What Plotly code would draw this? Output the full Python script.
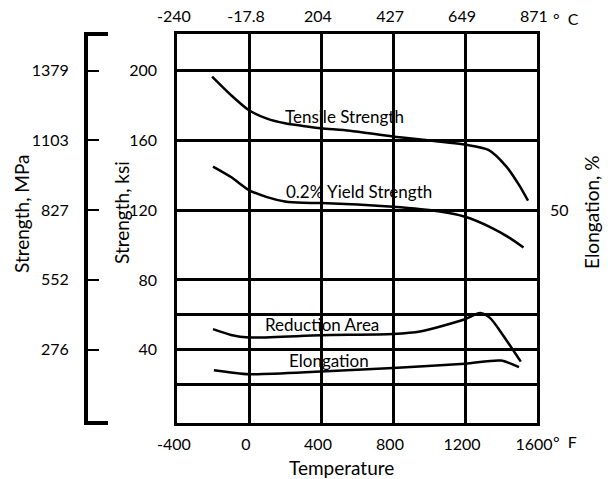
import plotly.graph_objects as go

# ---- data (temperature in deg F, values in chart units: ksi scale) ----
tensile_F = [-205, -100, 0, 100, 200, 300, 400, 560, 800, 1200, 1330, 1430, 1500, 1550]
tensile_ksi = [196.6, 186, 177.3, 172.5, 169.8, 168.3, 167, 165.6, 162.3, 157.6, 154.6, 145, 134.5, 125.5]

yield_F = [-200, -100, 0, 100, 200, 300, 400, 800, 1060, 1200, 1340, 1450, 1525]
yield_ksi = [145, 139, 131.5, 127.5, 125, 124.2, 124.1, 121.9, 119.2, 116.2, 110.3, 104, 98.6]

ra_F = [-200, -100, 0, 400, 800, 950, 1200, 1285, 1340, 1410, 1510]
ra_val = [51.8, 48.5, 47, 48.3, 49, 50.4, 57.5, 61, 58.1, 48.5, 33.2]

el_F = [-195, 0, 400, 800, 1200, 1400, 1500]
el_val = [28.3, 26, 27.5, 29.5, 32, 33.8, 30]

f_ticks = [-400, 0, 400, 800, 1200, 1600]
f_text = ["-400", "0", "400", "800", "1200", "1600"]
c_ticks = [-240, -17.8, 204, 427, 649, 871]
c_text = ["-240", "-17.8", "204", "427", "649", "871"]
ksi_ticks = [40, 80, 120, 160, 200]
ksi_minor = [20, 60]
mpa_ticks = [276, 552, 827, 1103, 1379]
elong_ticks = [50]

FONT = "Lato"
W, H = 613, 479
ML, MR, MT, MB = 10, 76, 34, 56
PW = W - ML - MR
PH = H - MT - MB

def px(x):
    return (x - ML) / PW

def py(y):
    return (H - MB - y) / PH

Y_RANGE = [-2, 221]
X_RANGE = [-400, 1600]

fig = go.Figure()
line_style = dict(color="black", width=2.5, shape="spline", smoothing=0.7)
for xs, ys in [(tensile_F, tensile_ksi), (yield_F, yield_ksi), (ra_F, ra_val), (el_F, el_val)]:
    fig.add_trace(go.Scatter(x=xs, y=ys, mode="lines", line=line_style,
                             showlegend=False, hoverinfo="skip"))

axis_font = dict(family=FONT, size=16, color="black")

fig.update_layout(
    width=W, height=H,
    margin=dict(l=ML, r=MR, t=MT, b=MB, autoexpand=False),
    paper_bgcolor="white", plot_bgcolor="white",
    font=dict(family=FONT, color="black"),
    xaxis=dict(
        domain=[px(177), 1], range=X_RANGE, tickvals=f_ticks, ticktext=f_text,
        showgrid=True, gridcolor="black", gridwidth=2.5, zeroline=False,
        showline=True, linecolor="black", linewidth=2.5, mirror=True,
        ticks="", ticklabelstandoff=5, ticklabelshift=-3, tickfont=axis_font,
        automargin=False,
    ),
    xaxis2=dict(
        overlaying="x", side="top", anchor="y", domain=[px(177), 1],
        range=[(X_RANGE[0] - 32) * 5 / 9, (X_RANGE[1] - 32) * 5 / 9],
        tickvals=c_ticks, ticktext=c_text, showgrid=False, zeroline=False,
        ticks="", ticklabelstandoff=8, ticklabelshift=-3, tickfont=axis_font,
        automargin=False,
    ),
    yaxis=dict(
        anchor="x", range=Y_RANGE, tickvals=ksi_ticks,
        showgrid=True, gridcolor="black", gridwidth=2.5, zeroline=False,
        minor=dict(tickvals=ksi_minor, showgrid=True, gridcolor="black", gridwidth=2.5, ticks=""),
        showline=True, linecolor="black", linewidth=2.5, mirror=True,
        ticks="", ticklabelstandoff=14, tickfont=axis_font, automargin=False,
    ),
    yaxis3=dict(
        overlaying="y", anchor="free", position=px(86), side="left",
        range=[Y_RANGE[0] * 6.895, Y_RANGE[1] * 6.895], tickvals=mpa_ticks,
        showgrid=False, zeroline=False, showline=True, linecolor="black", linewidth=4,
        ticks="inside", ticklen=11, tickwidth=2, tickcolor="black",
        ticklabelstandoff=12, tickfont=axis_font, automargin=False,
    ),
    yaxis4=dict(
        overlaying="y", anchor="x", side="right",
        range=[Y_RANGE[0] * 50 / 120, Y_RANGE[1] * 50 / 120], tickvals=elong_ticks,
        showgrid=False, zeroline=False, showline=False, ticks="",
        ticklabelstandoff=12, tickfont=axis_font, automargin=False,
    ),
)

# invisible traces to activate the extra axes
fig.add_trace(go.Scatter(x=[None], y=[None], xaxis="x2", yaxis="y", showlegend=False))
fig.add_trace(go.Scatter(x=[None], y=[None], xaxis="x", yaxis="y3", showlegend=False))
fig.add_trace(go.Scatter(x=[None], y=[None], xaxis="x", yaxis="y4", showlegend=False))

# bracket caps on MPa axis
for yy in [1, 0]:
    fig.add_shape(type="line", xref="paper", yref="paper",
                  x0=px(84), x1=px(108), y0=yy, y1=yy,
                  line=dict(color="black", width=4))

title_font = dict(family=FONT, size=19, color="black")
ann = [
    dict(text="Strength, ksi", x=px(121), y=py(213), textangle=-90, xanchor="center"),
    dict(text="Strength, MPa", x=px(21), y=py(214), textangle=-90, xanchor="center"),
    dict(text="Elongation, %", x=px(591), y=py(213), textangle=-90, xanchor="center"),
    dict(text="Temperature", x=px(341), y=py(467), xanchor="center"),
]
for a in ann:
    fig.add_annotation(xref="paper", yref="paper", showarrow=False,
                       yanchor="middle", font=title_font, **a)

suffix_font = dict(family=FONT, size=16, color="black")
for t, yy in [("°\u2002F", 441), ("°\u2002C", 18)]:
    fig.add_annotation(text=t, xref="paper", yref="paper", x=px(551), y=py(yy),
                       xanchor="left", yanchor="middle", showarrow=False, font=suffix_font)

label_font = dict(family=FONT, size=17, color="black")
curve_labels = [
    ("Tensile Strength", 528, 173.5),
    ("0.2% Yield Strength", 611, 130.7),
    ("Reduction Area", 406, 54.3),
    ("Elongation", 444, 33.6),
]
for t, xx, yy in curve_labels:
    fig.add_annotation(text=t, x=xx, y=yy, xref="x", yref="y", showarrow=False,
                       font=label_font, xanchor="center", yanchor="middle")

fig.write_html("out.html")
